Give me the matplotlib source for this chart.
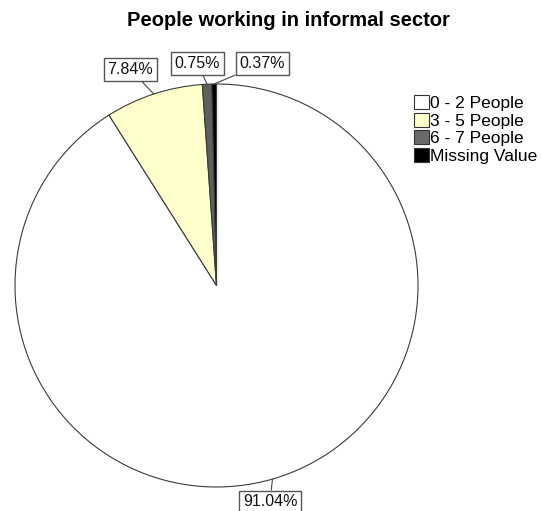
import numpy as np
import matplotlib
matplotlib.use('Agg')
import matplotlib.pyplot as plt
from matplotlib.patches import Patch

plt.rcParams['font.family'] = ['Liberation Sans', 'DejaVu Sans']

# --- data ---
categories = ['0 - 2 People', '3 - 5 People', '6 - 7 People', 'Missing Value']
percents = [91.04, 7.84, 0.75, 0.37]
slice_colors = ['#ffffff', '#ffffcc', '#5f5f5f', '#000000']
legend_colors = ['#ffffff', '#ffffcc', '#6a6a6a', '#000000']
title = 'People working in informal sector'

# --- layout (pixel space, y measured from top) ---
W, H = 542, 511
cx, cy, R = 216.5, 285.5, 201.5
label_pos = [(270, 502), (130.5, 69.5), (197.5, 63.5), (262.5, 63.5)]

fig = plt.figure(figsize=(W / 100, H / 100), dpi=100)
ax = fig.add_axes([0, 0, 1, 1])

wedges, _ = ax.pie(
    percents,
    colors=slice_colors,
    startangle=90,
    counterclock=False,
    center=(cx, H - cy),
    radius=R,
    wedgeprops=dict(edgecolor='#3c3c3c', linewidth=0.8),
)
ax.set_xlim(0, W)
ax.set_ylim(0, H)
ax.axis('off')

# boxed percentage labels with leader lines
for w, pct, (lx, ly) in zip(wedges, percents, label_pos):
    mid = np.deg2rad((w.theta1 + w.theta2) / 2)
    px = cx + R * np.cos(mid)
    py = (H - cy) + R * np.sin(mid)
    ax.annotate(
        f'{pct:.2f}%',
        xy=(px, py), xycoords='data',
        xytext=(lx, H - ly), textcoords='data',
        ha='center', va='center', fontsize=11.5, color='#111111',
        bbox=dict(boxstyle='square,pad=0.25', facecolor='white',
                  edgecolor='#555555', linewidth=1.0),
        arrowprops=dict(arrowstyle='-', color='#444444', linewidth=0.8,
                        shrinkA=0, shrinkB=0),
        annotation_clip=False,
    )

handles = [Patch(facecolor=c, edgecolor='#333333', linewidth=0.8) for c in legend_colors]
ax.legend(
    handles, categories,
    loc='upper left', bbox_to_anchor=(414 / W, 1 - 95 / H),
    bbox_transform=fig.transFigure,
    frameon=False, fontsize=12.5,
    handlelength=0.85, handleheight=0.85, handletextpad=0.1,
    labelspacing=0.1, borderpad=0, borderaxespad=0,
)

fig.text(288 / W, 1 - 20 / H, title, ha='center', va='center',
         fontsize=14.5, fontweight='bold')

fig.savefig('out.png', dpi=100)
plt.close(fig)
